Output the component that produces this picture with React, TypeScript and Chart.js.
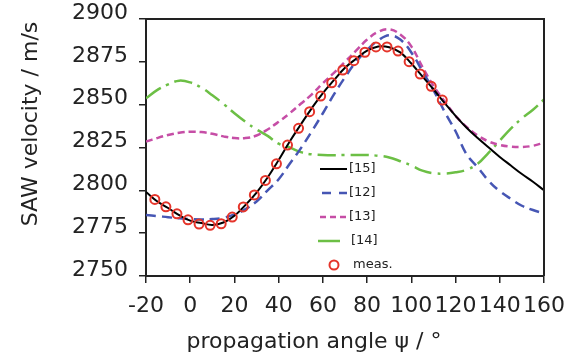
import React, { useEffect, useRef } from 'react';
import { Chart, registerables } from 'chart.js';

Chart.register(...registerables);

// ---- data ----
const angles = [-20, -15, -10, -5, 0, 5, 10, 15, 20, 25, 30, 35, 40, 45, 50, 55, 60, 65, 70, 75, 80, 85, 90, 95, 100, 105, 110, 115, 120, 125, 130, 135, 140, 145, 150, 155, 160];

const ref15 = [2799, 2793.6, 2789.7, 2785.5, 2782.3, 2780.9, 2779.8, 2781.2, 2785.2, 2791.5, 2798.7, 2807.5, 2817.7, 2828.5, 2838.4, 2848, 2856.8, 2864.3, 2871.5, 2876.8, 2881.5, 2884, 2883.5, 2880.5, 2874, 2866.5, 2859, 2851, 2843.5, 2836.5, 2830.5, 2825, 2819.5, 2814.5, 2809.5, 2805, 2800];

const ref12 = [2785.6, 2785, 2784.3, 2783.7, 2783.2, 2783, 2783.2, 2784, 2786, 2789, 2793.5, 2800, 2806.5, 2815.5, 2824.5, 2834.5, 2845, 2856, 2866, 2875, 2882, 2887.5, 2890.5, 2888, 2880.5, 2869.5, 2858.5, 2846, 2834.5, 2821, 2813.5, 2805.5, 2799.5, 2795, 2791, 2788.5, 2786.5];

const ref13 = [2828.4, 2830.5, 2832.3, 2833.6, 2834.2, 2834, 2833, 2831.5, 2830.5, 2830.5, 2832, 2835.5, 2840, 2845, 2850.5, 2856, 2862.5, 2868.5, 2875, 2881.5, 2888, 2892.5, 2894, 2891, 2884, 2872, 2861, 2852, 2843.5, 2837, 2832, 2828.5, 2826.5, 2825.5, 2825.3, 2826, 2827.8];

const ref14 = [2853.7, 2858.5, 2861.8, 2864, 2863, 2860, 2855.5, 2850.5, 2845, 2840, 2835.5, 2831.8, 2827.2, 2825, 2822.3, 2821, 2820.6, 2820.5, 2820.6, 2820.6, 2820.6, 2820.2, 2819.2, 2817, 2814.5, 2811.5, 2810, 2809.8, 2810.5, 2812, 2815.5, 2822, 2829, 2836, 2842, 2847, 2853];

const measAngles = [-16, -11, -6, -1, 4, 9, 14, 19, 24, 29, 34, 39, 44, 49, 54, 59, 64, 69, 74, 79, 84, 89, 94, 99, 104, 109, 114];
const measValues = [2794.7, 2790.4, 2786.3, 2782.8, 2780.3, 2779.6, 2780.5, 2784.4, 2790.3, 2797.3, 2805.8, 2815.5, 2826.4, 2836.2, 2845.9, 2855.0, 2862.8, 2870.2, 2875.7, 2880.6, 2883.7, 2883.7, 2881.3, 2875.1, 2867.9, 2860.7, 2852.7];

const xTicks = [-20, 0, 20, 40, 60, 80, 100, 120, 140, 160];
const yTicks = [2750, 2775, 2800, 2825, 2850, 2875, 2900];

const seriesLabels = ['[15]', '[12]', '[13]', '[14]', 'meas.'];
const xTitle = 'propagation angle \u03C8 / \u00B0';
const yTitle = 'SAW velocity / m/s';

const FONT = "'DejaVu Sans', sans-serif";
const TEXT = '#222';

const toXY = (xs: number[], ys: number[]) => xs.map((x, i) => ({ x, y: ys[i] }));

// legend sample layout per row: [lineStart, lineEnd, textX, dash]
const legendRows: [number, number, number, number[]][] = [
  [0, 27, 29, []],
  [2, 27, 29, [9, 8]],
  [0, 27, 29, [6, 4]],
  [-2, 20, 31, []],
  [14, 14, 33, []],
];

const zeroPad = (s: any) => {
  s.paddingTop = 0;
  s.paddingBottom = 0;
  s.paddingLeft = 0;
  s.paddingRight = 0;
};

const framePlugin = {
  id: 'frameAndTitles',
  afterDatasetsDraw(chart: any) {
    const { ctx, chartArea: ca } = chart;
    ctx.save();
    ctx.strokeStyle = TEXT;
    ctx.lineWidth = 2;
    ctx.beginPath();
    ctx.moveTo(ca.left, ca.top);
    ctx.lineTo(ca.right, ca.top);
    ctx.lineTo(ca.right, ca.bottom);
    ctx.stroke();
    ctx.restore();
  },
  afterDraw(chart: any) {
    const { ctx, chartArea: ca } = chart;
    ctx.save();
    ctx.fillStyle = TEXT;
    ctx.font = `22px ${FONT}`;
    ctx.textAlign = 'center';
    ctx.textBaseline = 'alphabetic';
    ctx.fillText(xTitle, ca.left + 168, ca.bottom + 72);
    ctx.translate(37, ca.top + 105);
    ctx.rotate(-Math.PI / 2);
    ctx.fillText(yTitle, 0, 0);
    ctx.restore();

    const x0 = ca.left + 174;
    const y0 = ca.top + 150;
    const rowH = 24;
    chart.data.datasets.forEach((ds: any, i: number) => {
      const [s, e, tx, dash] = legendRows[i];
      const y = y0 + i * rowH;
      ctx.save();
      ctx.strokeStyle = ds.borderColor;
      ctx.lineWidth = ds.borderWidth;
      ctx.beginPath();
      if (ds.showLine === false) {
        ctx.arc(x0 + s, y, ds.pointRadius, 0, Math.PI * 2);
      } else {
        ctx.setLineDash(dash);
        ctx.moveTo(x0 + s, y);
        ctx.lineTo(x0 + e, y);
      }
      ctx.stroke();
      ctx.restore();
      ctx.save();
      ctx.fillStyle = TEXT;
      ctx.font = `13px ${FONT}`;
      ctx.textAlign = 'left';
      ctx.textBaseline = 'middle';
      ctx.fillText(ds.label, x0 + tx, y);
      ctx.restore();
    });
  },
};

export default function App() {
  const canvasRef = useRef<HTMLCanvasElement>(null);

  useEffect(() => {
    const chart = new Chart(canvasRef.current as HTMLCanvasElement, {
      type: 'line',
      data: {
        datasets: [
          { label: seriesLabels[0], data: toXY(angles, ref15), borderColor: '#000000', borderWidth: 2, pointRadius: 0, tension: 0.4 },
          { label: seriesLabels[1], data: toXY(angles, ref12), borderColor: '#4656b4', borderWidth: 2.5, borderDash: [10, 6], pointRadius: 0, tension: 0.4 },
          { label: seriesLabels[2], data: toXY(angles, ref13), borderColor: '#c64ea6', borderWidth: 2.5, borderDash: [7, 4], pointRadius: 0, tension: 0.4 },
          { label: seriesLabels[3], data: toXY(angles, ref14), borderColor: '#6cbf45', borderWidth: 2.5, borderDash: [18, 6, 3, 6], pointRadius: 0, tension: 0.4 },
          {
            label: seriesLabels[4],
            data: toXY(measAngles, measValues),
            showLine: false,
            borderColor: '#e5352b',
            backgroundColor: 'rgba(0,0,0,0)',
            borderWidth: 2,
            pointRadius: 4.5,
            order: -1,
          },
        ] as any,
      },
      options: {
        responsive: false,
        animation: false,
        devicePixelRatio: 1,
        layout: { padding: { top: 19, right: 21, left: 0, bottom: 0 } },
        plugins: { legend: { display: false }, tooltip: { enabled: false } },
        scales: {
          x: {
            type: 'linear',
            min: xTicks[0],
            max: xTicks[xTicks.length - 1],
            afterFit: (s: any) => {
              s.height = 80;
              zeroPad(s);
            },
            ticks: {
              stepSize: xTicks[1] - xTicks[0],
              font: { family: FONT, size: 22 },
              color: TEXT,
              padding: 10,
              maxRotation: 0,
              autoSkip: false,
              callback: (v: any) => String(v),
            },
            grid: { drawOnChartArea: false, drawTicks: true, tickLength: 7, color: TEXT, lineWidth: 1.5 },
            border: { color: TEXT, width: 2 },
          },
          y: {
            type: 'linear',
            min: yTicks[0],
            max: yTicks[yTicks.length - 1],
            afterFit: (s: any) => {
              s.width = 146;
              zeroPad(s);
            },
            ticks: {
              stepSize: yTicks[1] - yTicks[0],
              font: { family: FONT, size: 22 },
              color: TEXT,
              padding: 11,
              labelOffset: -6,
              autoSkip: false,
              callback: (v: any) => String(v),
            },
            grid: { drawOnChartArea: false, drawTicks: true, tickLength: 7, color: TEXT, lineWidth: 1.5 },
            border: { color: TEXT, width: 2 },
          },
        },
      } as any,
      plugins: [framePlugin],
    });
    return () => chart.destroy();
  }, []);

  return (
    <div style={{ position: 'absolute', left: 0, top: 0, width: 565, height: 356, background: '#ffffff' }}>
      <canvas ref={canvasRef} width={565} height={356} style={{ display: 'block', width: 565, height: 356 }} />
    </div>
  );
}
